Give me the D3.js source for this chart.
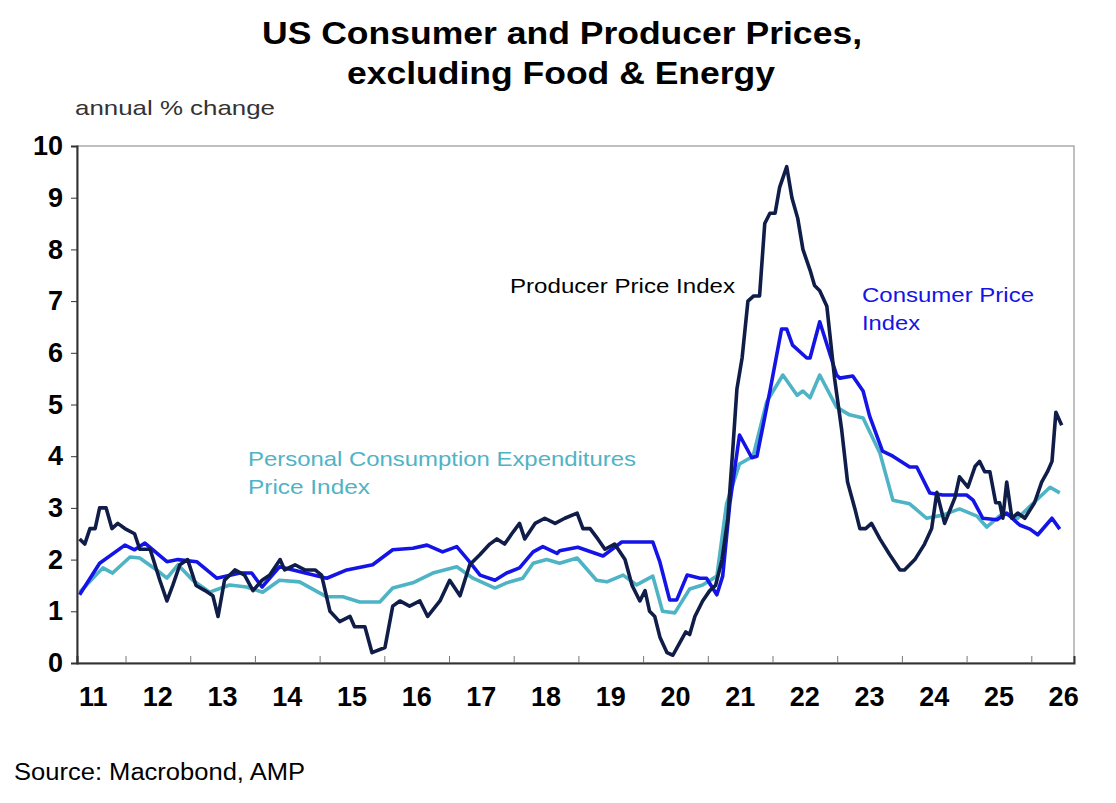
<!DOCTYPE html>
<html><head><meta charset="utf-8">
<script src="https://cdn.jsdelivr.net/npm/d3@7"></script>
<style>body{margin:0;background:#fff}text{font-family:Arial,"Liberation Sans",sans-serif}</style>
</head><body>
<svg id="c" width="1116" height="803"></svg>
<script>
const ppiYears=[2011.29,2011.37,2011.45,2011.53,2011.60,2011.70,2011.79,2011.88,2011.99,2012.14,2012.22,2012.38,2012.53,2012.64,2012.73,2012.84,2012.96,2013.09,2013.23,2013.35,2013.43,2013.53,2013.69,2013.84,2013.97,2014.11,2014.23,2014.39,2014.46,2014.62,2014.77,2014.93,2015.03,2015.16,2015.31,2015.47,2015.54,2015.70,2015.81,2016.01,2016.13,2016.24,2016.39,2016.55,2016.67,2016.86,2017.01,2017.17,2017.32,2017.48,2017.63,2017.74,2017.86,2017.97,2018.09,2018.17,2018.33,2018.48,2018.64,2018.79,2018.98,2019.07,2019.18,2019.30,2019.41,2019.56,2019.72,2019.83,2019.95,2020.03,2020.10,2020.18,2020.26,2020.37,2020.46,2020.57,2020.66,2020.72,2020.80,2020.92,2021.03,2021.12,2021.22,2021.31,2021.39,2021.45,2021.53,2021.62,2021.71,2021.80,2021.88,2021.96,2022.04,2022.11,2022.22,2022.30,2022.39,2022.47,2022.58,2022.65,2022.73,2022.84,2022.96,2023.07,2023.16,2023.27,2023.35,2023.44,2023.53,2023.66,2023.81,2023.97,2024.04,2024.20,2024.35,2024.46,2024.54,2024.66,2024.82,2024.89,2025.02,2025.13,2025.20,2025.28,2025.36,2025.45,2025.51,2025.56,2025.62,2025.70,2025.79,2025.90,2026.05,2026.16,2026.25,2026.32,2026.38,2026.47];
const ppiValues=[2.4,2.3,2.6,2.6,3.0,3.0,2.6,2.7,2.6,2.5,2.2,2.2,1.6,1.2,1.5,1.9,2.0,1.5,1.4,1.3,0.9,1.6,1.8,1.7,1.4,1.6,1.7,2.0,1.8,1.9,1.8,1.8,1.7,1.0,0.8,0.9,0.7,0.7,0.2,0.3,1.1,1.2,1.1,1.2,0.9,1.2,1.6,1.3,1.9,2.1,2.3,2.4,2.3,2.5,2.7,2.4,2.7,2.8,2.7,2.8,2.9,2.6,2.6,2.4,2.2,2.3,2.0,1.5,1.2,1.4,1.0,0.9,0.5,0.2,0.15,0.4,0.6,0.55,0.9,1.2,1.4,1.5,2.0,2.8,4.2,5.3,5.9,7.0,7.1,7.1,8.5,8.7,8.7,9.2,9.6,9.0,8.6,8.0,7.6,7.3,7.2,6.9,5.5,4.5,3.5,3.0,2.6,2.6,2.7,2.4,2.1,1.8,1.8,2.0,2.3,2.6,3.3,2.7,3.2,3.6,3.4,3.8,3.9,3.7,3.7,3.1,3.1,2.8,3.5,2.8,2.9,2.8,3.1,3.5,3.7,3.9,4.85,4.6,4.65];
const cpiYears=[2011.29,2011.60,2011.99,2012.14,2012.30,2012.64,2012.81,2013.10,2013.41,2013.77,2013.95,2014.11,2014.38,2014.59,2015.11,2015.42,2015.82,2016.13,2016.44,2016.66,2016.90,2017.12,2017.29,2017.48,2017.71,2017.89,2018.09,2018.30,2018.45,2018.67,2018.71,2018.99,2019.38,2019.67,2020.15,2020.26,2020.41,2020.52,2020.68,2020.88,2020.98,2021.14,2021.23,2021.34,2021.49,2021.68,2021.76,2021.96,2022.14,2022.22,2022.31,2022.53,2022.58,2022.73,2022.99,2023.04,2023.24,2023.40,2023.50,2023.70,2023.86,2024.12,2024.23,2024.43,2024.63,2025.00,2025.10,2025.25,2025.47,2025.62,2025.82,2025.98,2026.10,2026.32,2026.44];
const cpiValues=[1.32,1.93,2.28,2.19,2.32,1.96,2.0,1.96,1.64,1.74,1.74,1.47,1.86,1.80,1.64,1.80,1.9,2.19,2.22,2.28,2.15,2.25,2.0,1.70,1.60,1.74,1.84,2.15,2.25,2.12,2.17,2.24,2.07,2.34,2.34,1.95,1.22,1.22,1.70,1.64,1.64,1.32,1.68,3.08,4.41,3.97,4.0,5.26,6.46,6.46,6.15,5.90,5.90,6.60,5.57,5.51,5.55,5.26,4.78,4.10,4.0,3.79,3.79,3.29,3.25,3.25,3.15,2.80,2.77,2.90,2.67,2.59,2.48,2.80,2.59];
const pceYears=[2011.29,2011.65,2011.80,2012.07,2012.22,2012.48,2012.64,2012.81,2013.04,2013.30,2013.61,2013.87,2014.12,2014.38,2014.69,2015.11,2015.36,2015.62,2015.93,2016.13,2016.44,2016.75,2017.12,2017.37,2017.71,2017.89,2018.14,2018.30,2018.51,2018.71,2018.98,2019.28,2019.44,2019.69,2019.90,2020.15,2020.30,2020.49,2020.72,2020.92,2021.14,2021.29,2021.49,2021.70,2021.91,2022.16,2022.38,2022.47,2022.58,2022.73,2022.99,2023.19,2023.40,2023.66,2023.86,2024.12,2024.38,2024.63,2024.89,2025.16,2025.31,2025.56,2025.79,2026.02,2026.29,2026.44];
const pceValues=[1.37,1.84,1.74,2.05,2.03,1.80,1.64,1.9,1.60,1.37,1.51,1.47,1.37,1.60,1.57,1.28,1.28,1.18,1.18,1.45,1.55,1.74,1.86,1.64,1.45,1.55,1.64,1.93,2.0,1.93,2.03,1.60,1.57,1.70,1.51,1.68,1.0,0.97,1.43,1.51,1.68,3.08,3.85,4.0,5.05,5.57,5.18,5.26,5.13,5.57,4.95,4.80,4.74,4.06,3.15,3.08,2.80,2.86,2.98,2.84,2.63,2.90,2.80,3.08,3.40,3.29];
const yTicks=[0,1,2,3,4,5,6,7,8,9,10];
const xYears=[2011,2012,2013,2014,2015,2016,2017,2018,2019,2020,2021,2022,2023,2024,2025,2026];
const xLabels=["11","12","13","14","15","16","17","18","19","20","21","22","23","24","25","26"];

const svg=d3.select("#c");
const L=77,R=1074,T=146,B=663;
const x=d3.scaleLinear().domain([2011.25,2026.66]).range([L,R]);
const y=d3.scaleLinear().domain([0,10]).range([B,T]);

function txt(tx,ty,s,size,opts={}){
  const t=svg.append("text").attr("x",tx).attr("y",ty).attr("font-size",size).text(s);
  if(opts.w){t.attr("textLength",opts.w).attr("lengthAdjust","spacingAndGlyphs");}
  if(opts.fill)t.attr("fill",opts.fill);
  if(opts.bold)t.attr("font-weight","bold");
  if(opts.family)t.attr("font-family",opts.family);
  return t;
}
txt(262,44,"US Consumer and Producer Prices,",31,{w:600,bold:true});
txt(347,84,"excluding Food & Energy",31,{w:428,bold:true});
txt(75,115,"annual % change",21,{w:200,fill:"#333"});

svg.append("rect").attr("x",L).attr("y",T).attr("width",R-L).attr("height",B-T).attr("fill","none").attr("stroke","#aaa").attr("stroke-width",1.5);

const ya=svg.append("g").attr("transform",`translate(${L},0)`).call(d3.axisLeft(y).tickValues(yTicks).tickSize(6).tickFormat(d3.format("d")));
ya.select(".domain").attr("stroke","#333").attr("stroke-width",2);
ya.selectAll("line").attr("stroke","#333");
ya.selectAll("text").attr("font-size",27).attr("font-weight","bold").attr("fill","#000").attr("x",-14);

const xa=svg.append("g").attr("transform",`translate(0,${B})`).call(d3.axisBottom(x).tickValues(xYears.slice(1)).tickSize(-7).tickFormat(""));
xa.select(".domain").attr("stroke","#333").attr("stroke-width",2);
xa.selectAll("line").attr("stroke","#777");
svg.selectAll(".xl").data(xYears).enter().append("text").attr("x",d=>x(d+0.5)).attr("y",706).attr("text-anchor","middle").attr("font-size",27).attr("font-weight","bold").text((d,i)=>xLabels[i]);

const line=d3.line().x(d=>x(d[0])).y(d=>y(d[1]));
const series=[[pceYears,pceValues,"#4fb3c6"],[cpiYears,cpiValues,"#1414e6"],[ppiYears,ppiValues,"#0f1d48"]];
series.forEach(([xs,vs,c])=>{
  svg.append("path").datum(xs.map((d,i)=>[d,vs[i]])).attr("d",line).attr("fill","none").attr("stroke",c).attr("stroke-width",3.6).attr("stroke-linejoin","round");
});

txt(510,293,"Producer Price Index",21,{w:225,fill:"#000"});
txt(862,302,"Consumer Price",21,{w:172,fill:"#1414e6"});
txt(862,330,"Index",21,{w:58,fill:"#1414e6"});
txt(248,466,"Personal Consumption Expenditures",21,{w:388,fill:"#4fb3c6"});
txt(248,494,"Price Index",21,{w:122,fill:"#4fb3c6"});
txt(14,780,"Source: Macrobond, AMP",23,{w:291,family:"'Liberation Sans Narrow','Open Sans',sans-serif"});
</script></body></html>
